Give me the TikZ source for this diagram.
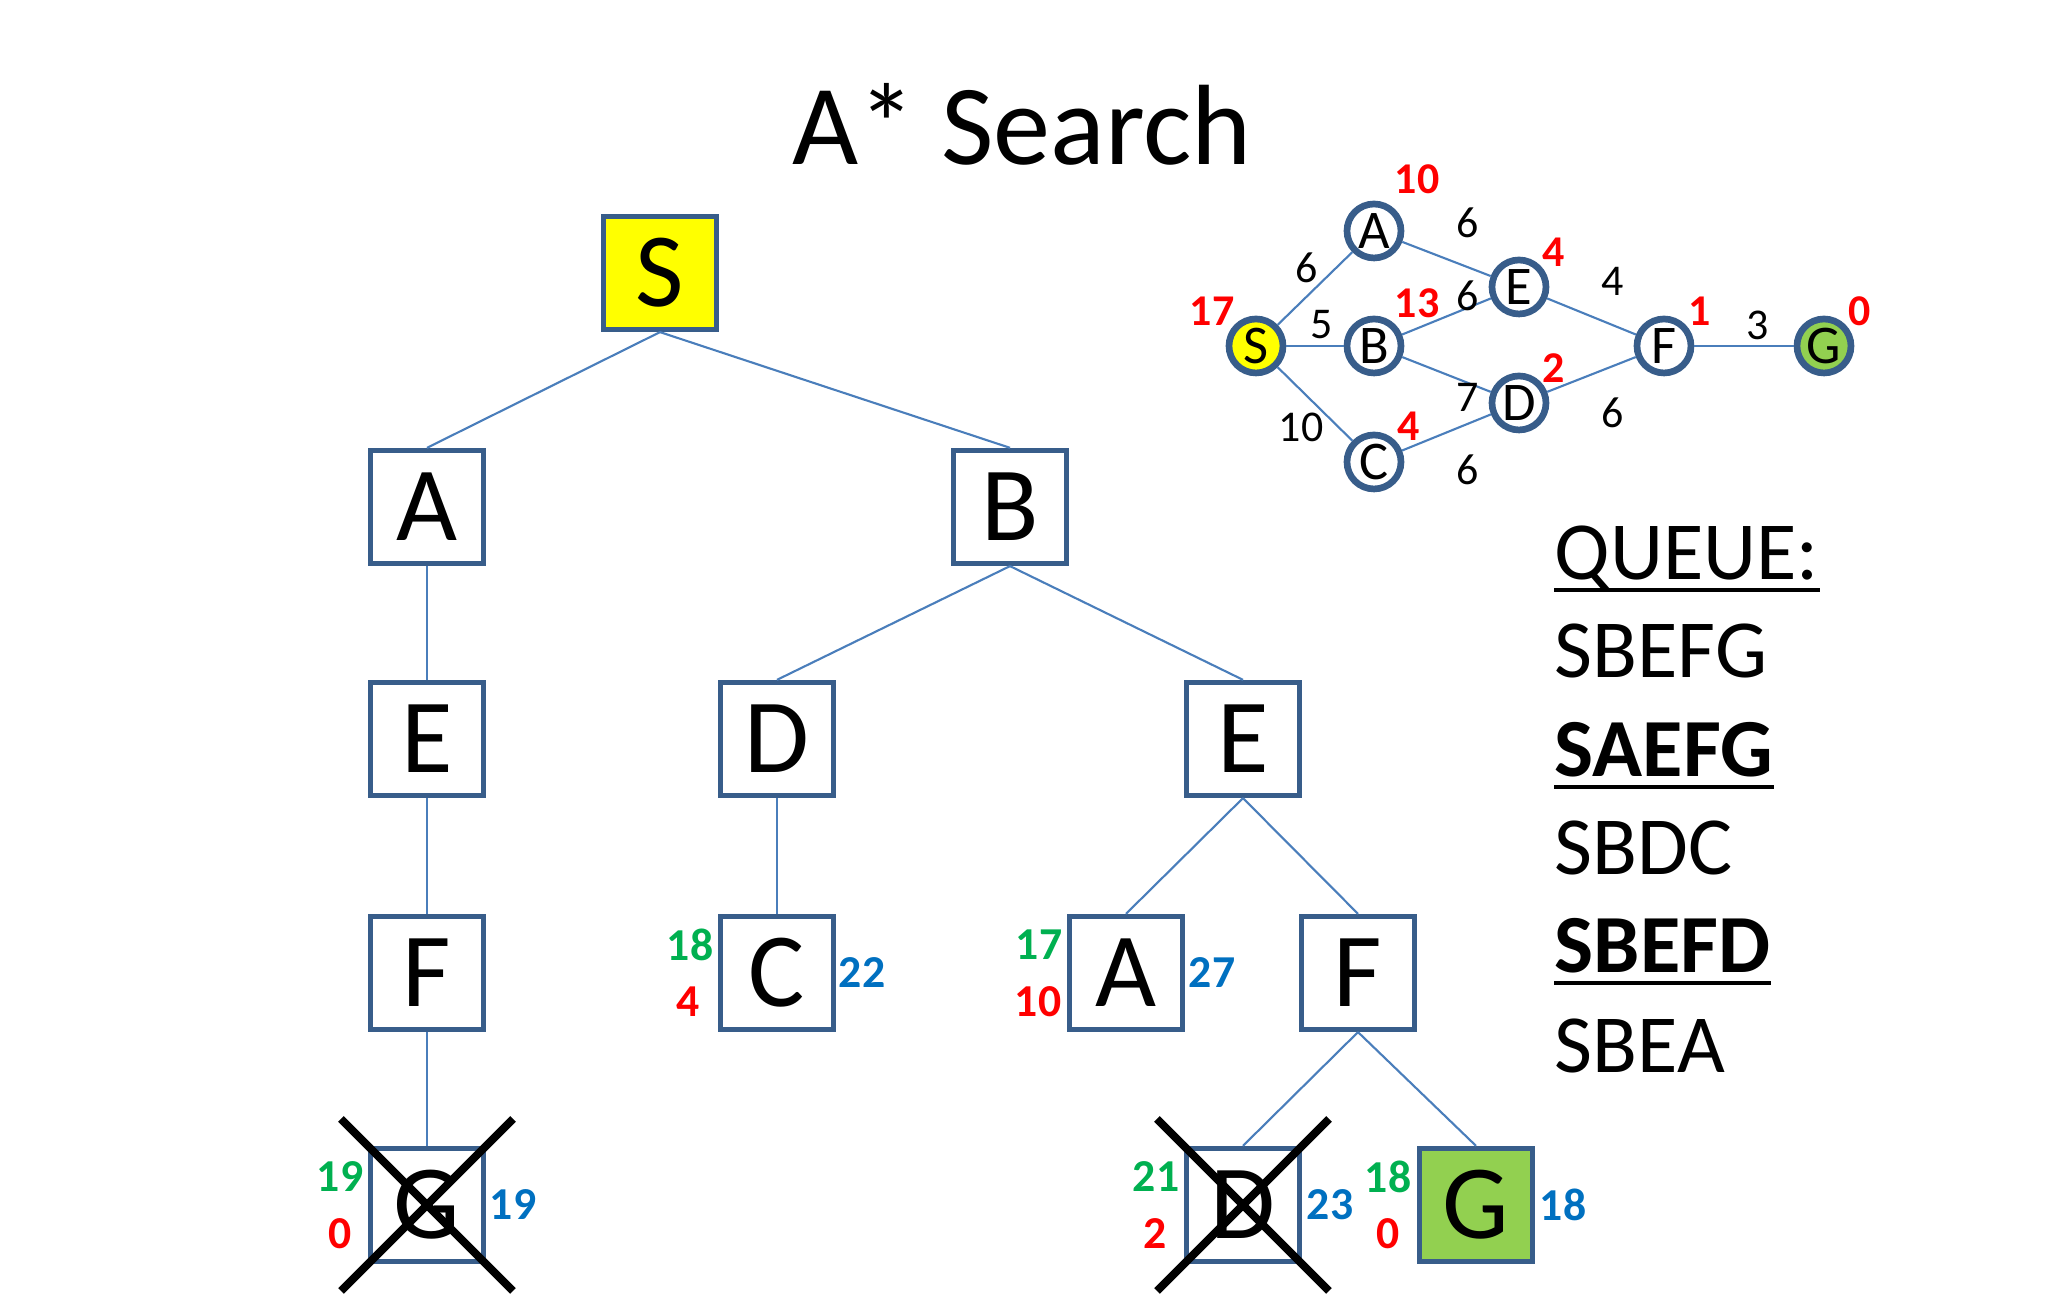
\documentclass[tikz,border=0pt]{standalone}
\usepackage{fontspec}
\setmainfont{Carlito}

\definecolor{boxline}{HTML}{385D8A}
\definecolor{edgeline}{HTML}{4A7EBB}
\definecolor{startyellow}{HTML}{FFFF00}
\definecolor{goalgreen}{HTML}{92D050}
\definecolor{gcolor}{HTML}{00B050}
\definecolor{hcolor}{HTML}{FF0000}
\definecolor{fcolor}{HTML}{0070C0}

\begin{document}
\begin{tikzpicture}[
    treeBox/.style={
        rectangle, draw=boxline, line width=1.5pt, fill=white,
        minimum size=1.13cm, inner sep=0pt,
        font=\fontsize{30}{36}\selectfont
    },
    startBox/.style={treeBox, fill=startyellow},
    goalBox/.style={treeBox, fill=goalgreen},
    treeEdge/.style={draw=edgeline, line width=0.6pt},
    crossOut/.style={draw=black, line width=2.3pt},
    gCost/.style={text=gcolor, inner sep=0pt, font=\bfseries\fontsize{13}{15}\selectfont},
    hCost/.style={gCost, text=hcolor},
    fCost/.style={gCost, text=fcolor},
    mapNode/.style={
        circle, draw=boxline, line width=1.9pt, fill=white,
        minimum size=0.54cm, inner sep=0pt,
        font=\fontsize{15.5}{18}\selectfont
    },
    mapEdge/.style={draw=edgeline, line width=0.6pt},
    weightText/.style={inner sep=0pt, font=\fontsize{12.5}{15}\selectfont},
    heurText/.style={inner sep=0pt, text=hcolor, font=\bfseries\fontsize{12.5}{15}\selectfont},
    queueText/.style={anchor=base west, inner sep=0pt, font=\fontsize{23.5}{28}\selectfont},
    queueLine/.style={draw=black, line width=1.1pt}
]
    \useasboundingbox (0,0) rectangle (20.48,13.03);

    % --- title ---
    \node[anchor=base, inner sep=0pt, font=\fontsize{32.5}{40}\selectfont] (title) at (10.22, 11.38) {A* Search};

    % --- search tree ---
    \node[startBox] (tS) at (6.60, 10.30) {S};
    \node[treeBox] (tA) at (4.27, 7.96) {A};
    \node[treeBox] (tB) at (10.10, 7.96) {B};
    \node[treeBox] (tE1) at (4.27, 5.64) {E};
    \node[treeBox] (tD1) at (7.77, 5.64) {D};
    \node[treeBox] (tE2) at (12.43, 5.64) {E};
    \node[treeBox] (tF1) at (4.27, 3.30) {F};
    \node[treeBox] (tC) at (7.77, 3.30) {C};
    \node[treeBox] (tA2) at (11.26, 3.30) {A};
    \node[treeBox] (tF2) at (13.58, 3.30) {F};
    \node[treeBox] (tG1) at (4.27, 0.98) {G};
    \node[treeBox] (tD2) at (12.43, 0.98) {D};
    \node[goalBox] (tG2) at (14.76, 0.98) {G};

    \draw[treeEdge] (tS.south) -- (tA.north);
    \draw[treeEdge] (tS.south) -- (tB.north);
    \draw[treeEdge] (tA.south) -- (tE1.north);
    \draw[treeEdge] (tB.south) -- (tD1.north);
    \draw[treeEdge] (tB.south) -- (tE2.north);
    \draw[treeEdge] (tE1.south) -- (tF1.north);
    \draw[treeEdge] (tD1.south) -- (tC.north);
    \draw[treeEdge] (tE2.south) -- (tA2.north);
    \draw[treeEdge] (tE2.south) -- (tF2.north);
    \draw[treeEdge] (tF1.south) -- (tG1.north);
    \draw[treeEdge] (tF2.south) -- (tD2.north);
    \draw[treeEdge] (tF2.south) -- (tG2.north);

    % --- costs: g green, h red, f blue ---
    \node[gCost] (gC) at (6.90, 3.58) {18};
    \node[hCost] (hC) at (6.88, 3.01) {4};
    \node[fCost] (fC) at (8.62, 3.30) {22};
    \node[gCost] (gA2) at (10.39, 3.58) {17};
    \node[hCost] (hA2) at (10.38, 3.01) {10};
    \node[fCost] (fA2) at (12.12, 3.30) {27};
    \node[gCost] (gG1) at (3.40, 1.26) {19};
    \node[hCost] (hG1) at (3.40, 0.69) {0};
    \node[fCost] (fG1) at (5.13, 0.98) {19};
    \node[gCost] (gD2) at (11.56, 1.26) {21};
    \node[hCost] (hD2) at (11.55, 0.69) {2};
    \node[fCost] (fD2) at (13.30, 0.98) {23};
    \node[gCost] (gG2) at (13.88, 1.26) {18};
    \node[hCost] (hG2) at (13.88, 0.69) {0};
    \node[fCost] (fG2) at (15.63, 0.98) {18};

    % crossed out
    \draw[crossOut] ([shift={(-0.86,0.86)}]tG1.center) -- ([shift={(0.86,-0.86)}]tG1.center);
    \draw[crossOut] ([shift={(0.86,0.86)}]tG1.center) -- ([shift={(-0.86,-0.86)}]tG1.center);
    \draw[crossOut] ([shift={(-0.86,0.86)}]tD2.center) -- ([shift={(0.86,-0.86)}]tD2.center);
    \draw[crossOut] ([shift={(0.86,0.86)}]tD2.center) -- ([shift={(-0.86,-0.86)}]tD2.center);

    % --- map ---
    \node[mapNode, fill=startyellow] (mS) at (12.56, 9.57) {S};
    \node[mapNode] (mA) at (13.74, 10.72) {A};
    \node[mapNode] (mB) at (13.74, 9.57) {B};
    \node[mapNode] (mC) at (13.74, 8.41) {C};
    \node[mapNode] (mE) at (15.19, 10.16) {E};
    \node[mapNode] (mD) at (15.19, 9.00) {D};
    \node[mapNode] (mF) at (16.64, 9.57) {F};
    \node[mapNode, fill=goalgreen] (mG) at (18.24, 9.57) {G};

    \draw[mapEdge] (mS) -- (mA);
    \draw[mapEdge] (mS) -- (mB);
    \draw[mapEdge] (mS) -- (mC);
    \draw[mapEdge] (mA) -- (mE);
    \draw[mapEdge] (mB) -- (mE);
    \draw[mapEdge] (mB) -- (mD);
    \draw[mapEdge] (mC) -- (mD);
    \draw[mapEdge] (mE) -- (mF);
    \draw[mapEdge] (mD) -- (mF);
    \draw[mapEdge] (mF) -- (mG);

    \node[weightText] (wSA) at (13.07, 10.35) {6};
    \node[weightText] (wAE) at (14.68, 10.80) {6};
    \node[weightText] (wSB) at (13.22, 9.78) {5};
    \node[weightText] (wBE) at (14.68, 10.07) {6};
    \node[weightText] (wEF) at (16.13, 10.22) {4};
    \node[weightText] (wFG) at (17.58, 9.78) {3};
    \node[weightText] (wBD) at (14.68, 9.06) {7};
    \node[weightText] (wSC) at (13.01, 8.76) {10};
    \node[weightText] (wDF) at (16.13, 8.90) {6};
    \node[weightText] (wCD) at (14.68, 8.33) {6};

    \node[heurText] (hmA) at (14.17, 11.24) {10};
    \node[heurText] (hmE) at (15.54, 10.51) {4};
    \node[heurText] (hmB) at (14.17, 10.00) {13};
    \node[heurText] (hmS) at (12.12, 9.92) {17};
    \node[heurText] (hmD) at (15.54, 9.35) {2};
    \node[heurText] (hmC) at (14.09, 8.77) {4};
    \node[heurText] (hmF) at (17.00, 9.92) {1};
    \node[heurText] (hmG) at (18.60, 9.92) {0};

    % --- queue ---
    \node[queueText] (q0) at (15.54, 7.23) {QUEUE:};
    \node[queueText] (q1) at (15.54, 6.25) {SBEFG};
    \node[queueText] (q2) at (15.54, 5.26) {\bfseries SAEFG};
    \node[queueText] (q3) at (15.54, 4.28) {SBDC};
    \node[queueText] (q4) at (15.54, 3.30) {\bfseries SBEFD};
    \node[queueText] (q5) at (15.54, 2.30) {SBEA};
    \draw[queueLine] ([yshift=-1mm]q0.base west) -- ([yshift=-1mm]q0.base east);
    \draw[queueLine] ([yshift=-1mm]q2.base west) -- ([yshift=-1mm]q2.base east);
    \draw[queueLine] ([yshift=-1mm]q4.base west) -- ([yshift=-1mm]q4.base east);
\end{tikzpicture}
\end{document}
